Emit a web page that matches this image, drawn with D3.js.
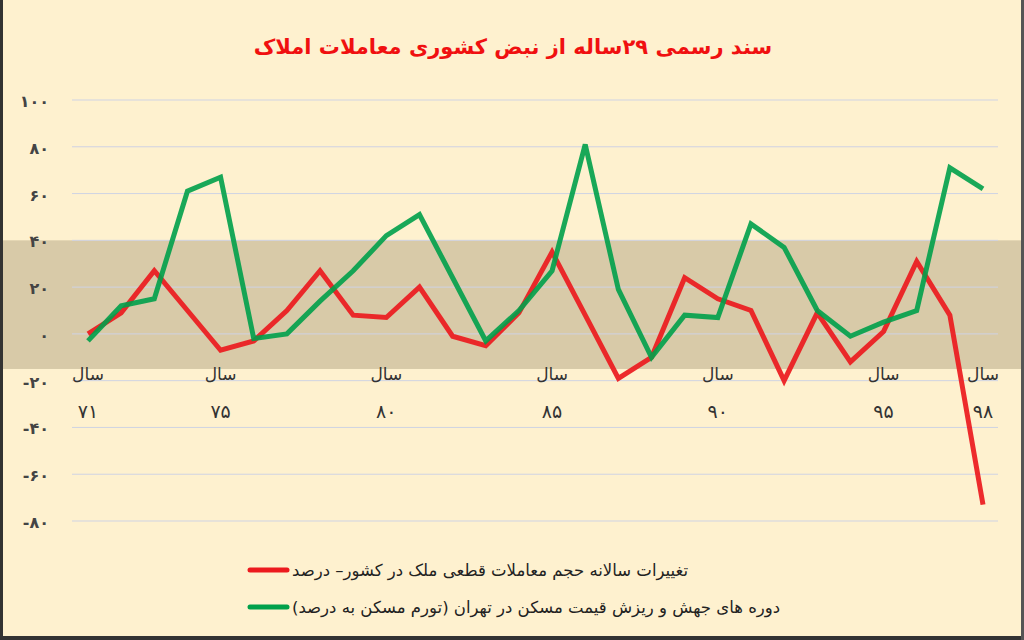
<!DOCTYPE html>
<html><head><meta charset="utf-8">
<script src="https://cdn.jsdelivr.net/npm/d3@7"></script>
<style>body{margin:0;background:#fef1cf}svg{display:block}</style>
</head><body>
<script>
const years = [71,72,73,74,75,76,77,78,79,80,81,82,83,84,85,86,87,88,89,90,91,92,93,94,95,96,97,98];
const redValues = [0,9,27,10,-7,-3,10,27,8,7,20,-1,-5,9,35,8,-19,-10,24,15,10,-20,9,-12,1,31,8,-73];
const greenValues = [-3,12,15,61,67,-2,0,14,27,42,51,24,-3,10,27,81,19,-10,8,7,47,37,10,-1,5,10,71,62];
const yTicks = [100,80,60,40,20,0,-20,-40,-60,-80];
const labelYears = [71,75,80,85,90,95,98];
const title = "سند رسمی ۲۹ساله از نبض کشوری معاملات املاک";
const legendRed = "تغییرات سالانه حجم معاملات قطعی ملک در کشور– درصد";
const legendGreen = "دوره های جهش و ریزش قیمت مسکن در تهران (تورم مسکن به درصد)";

const fa = n => String(n).replace(/\d/g, d => "۰۱۲۳۴۵۶۷۸۹"[d]);
const W = 1024, H = 640;
const svg = d3.select("body").append("svg").attr("width", W).attr("height", H);
svg.append("rect").attr("width", W).attr("height", H).attr("fill", "#fef1cf");
const x = d3.scaleLinear().domain([71, 98]).range([88, 983]);
const y = d3.scaleLinear().domain([-80, 100]).range([521, 100]);

svg.append("rect").attr("x", 0).attr("width", W).attr("y", y(40)).attr("height", y(-15) - y(40)).attr("fill", "#d8caa8");
svg.append("g").selectAll("line").data(yTicks).join("line")
  .attr("x1", 72).attr("x2", 998).attr("y1", d => y(d)).attr("y2", d => y(d))
  .attr("stroke", "#cfd3e3").attr("stroke-width", 1);
svg.append("g").selectAll("text").data(yTicks).join("text")
  .attr("x", 49).attr("y", d => y(d) + 7).attr("text-anchor", "end")
  .attr("font-family", "DejaVu Sans").attr("font-weight", "bold").attr("font-size", 16).attr("fill", "#444")
  .text(d => (d < 0 ? "-" : "") + fa(Math.abs(d)));
const yl = svg.append("g").attr("font-family", "DejaVu Sans").attr("fill", "#333").attr("text-anchor", "middle");
yl.selectAll(".s").data(labelYears).join("text").attr("x", d => x(d)).attr("y", 380).attr("font-size", 17).text("سال");
yl.selectAll(".n").data(labelYears).join("text").attr("x", d => x(d)).attr("y", 418).attr("font-size", 19).text(d => fa(d));

const line = d3.line().x((d, i) => x(years[i])).y(d => y(d));
svg.append("path").datum(redValues).attr("d", line).attr("fill", "none").attr("stroke", "#ec1a1e").attr("stroke-width", 5).attr("stroke-opacity", 0.92);
svg.append("path").datum(greenValues).attr("d", line).attr("fill", "none").attr("stroke", "#00a04a").attr("stroke-width", 5).attr("stroke-opacity", 0.9);

svg.append("text").attr("x", 513).attr("y", 54).attr("text-anchor", "middle").attr("direction", "rtl")
  .attr("font-family", "DejaVu Sans").attr("font-weight", "bold").attr("font-size", 21).attr("fill", "#f01010").text(title);

const lg = [[legendRed, "#ec1a1e", 570], [legendGreen, "#00a04a", 607]];
lg.forEach(([t, c, yy]) => {
  svg.append("line").attr("x1", 250).attr("x2", 287).attr("y1", yy).attr("y2", yy).attr("stroke", c).attr("stroke-width", 5).attr("stroke-linecap", "round");
  svg.append("text").attr("x", 292).attr("y", yy + 6).attr("direction", "rtl").attr("text-anchor", "end")
    .attr("font-family", "DejaVu Sans").attr("font-size", 16.5).attr("fill", "#222").text(t);
});
svg.append("rect").attr("x", 0).attr("y", 0).attr("width", 3).attr("height", H).attr("fill", "#333");
svg.append("rect").attr("x", 0).attr("y", 636).attr("width", W).attr("height", 4).attr("fill", "#333");
svg.append("rect").attr("x", 1021).attr("y", 0).attr("width", 3).attr("height", H).attr("fill", "#555");
</script>
</body></html>
